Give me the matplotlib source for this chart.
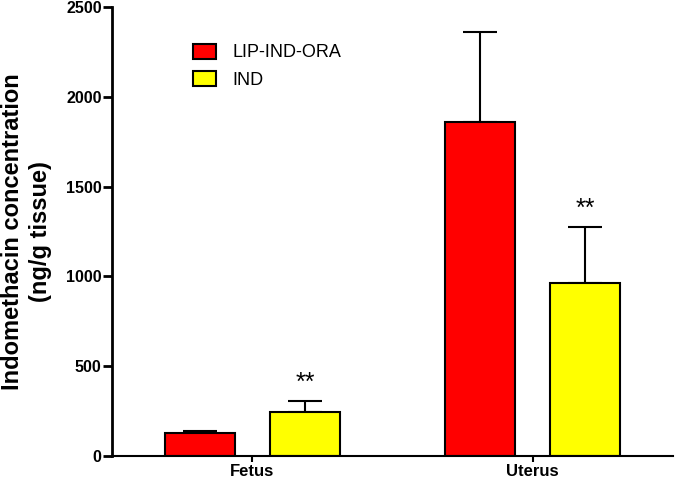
import matplotlib
matplotlib.use("Agg")
import matplotlib.pyplot as plt
import numpy as np

groups = ["Fetus", "Uterus"]
series = ["LIP-IND-ORA", "IND"]
colors = ["#ff0000", "#ffff00"]
means = [[126, 1861], [247, 965]]
errs = [[15, 502], [61, 310]]
stars = ["", "**"]

fig = plt.figure(figsize=(6.75, 4.82), dpi=100)
ax = fig.add_axes([0.166, 0.054, 0.831, 0.931])

x = np.arange(len(groups))
width = 0.25
offsets = [-0.1875, 0.1875]
for i in range(len(series)):
    ax.bar(x + offsets[i], means[i], width, color=colors[i], edgecolor="black",
           linewidth=1.5, label=series[i], zorder=2)
    ax.errorbar(x + offsets[i], means[i], yerr=[np.zeros(len(groups)), errs[i]],
                fmt="none", ecolor="black", elinewidth=1.5, capsize=12.5,
                capthick=1.5, zorder=1)
    if stars[i]:
        for j in range(len(groups)):
            ax.text(x[j] + offsets[i], means[i][j] + errs[i][j] + 35, stars[i],
                    ha="center", va="bottom", fontsize=18, family="Liberation Sans")

ax.set_xlim(-0.5, 1.5)
ax.set_ylim(0, 2500)
ax.set_yticks([0, 500, 1000, 1500, 2000, 2500])
ax.set_xticks(x)
ax.set_xticklabels(groups, fontweight="bold", fontsize=12, family="Liberation Sans")
for lab in ax.get_yticklabels():
    lab.set_fontweight("bold")
    lab.set_fontsize(11.5)
    lab.set_family("Liberation Sans")
ax.spines["top"].set_visible(False)
ax.spines["right"].set_visible(False)
ax.spines["left"].set_linewidth(2)
ax.spines["bottom"].set_linewidth(1.5)
ax.tick_params(axis="y", width=2, length=6.5, pad=1)
ax.tick_params(axis="x", width=1.5, length=4, pad=2)
ax.set_ylabel("Indomethacin concentration\n(ng/g tissue)", fontsize=17,
              fontweight="bold", family="Liberation Sans", labelpad=10, linespacing=1.3)

leg = ax.legend(loc="upper left", bbox_to_anchor=(0.115, 0.955), frameon=False,
                prop={"family": "Liberation Sans", "size": 13},
                handlelength=1.3, handleheight=0.9, handletextpad=0.9,
                labelspacing=0.55)

fig.savefig("out.png", dpi=100)
